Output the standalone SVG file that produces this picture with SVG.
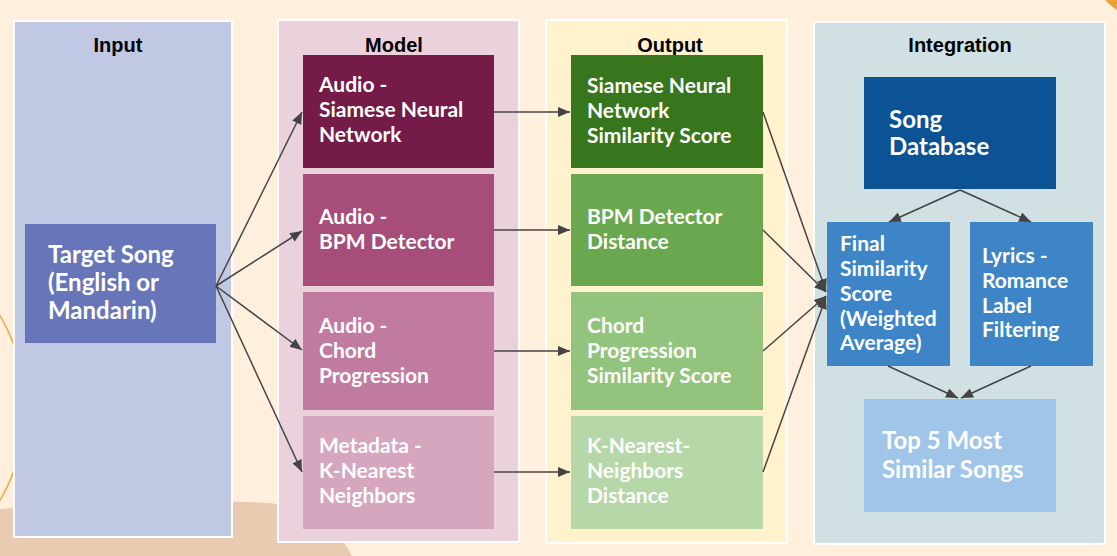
<svg xmlns="http://www.w3.org/2000/svg" width="1117" height="556" viewBox="0 0 1117 556">
<style>
.cl{stroke:#ffffff;stroke-width:2}
.title{font-family:"Liberation Sans",Arial,sans-serif;font-weight:bold;font-size:20px;fill:#000000;text-anchor:middle}
.t{font-family:Lato,"Noto Sans",sans-serif;font-weight:bold;fill:#ffffff}
.s19{font-size:21px}
.s22{font-size:24px}
.s24{font-size:24px}
.c{fill:none;stroke:#444444;stroke-width:1.5}
</style>
<defs>
<marker id="ah" markerUnits="userSpaceOnUse" markerWidth="14" markerHeight="12" refX="12" refY="5" orient="auto">
<path d="M0,0 L12,5 L0,10 Z" fill="#444444"/>
</marker>
</defs>
<rect x="0" y="0" width="1117" height="556" fill="#FFEFDC"/>
<path d="M0,509 Q140,496 270,503 Q330,510 352,556 L0,556 Z" fill="#E9CBB2"/>
<circle cx="-158" cy="408" r="183" fill="none" stroke="#E8A94A" stroke-width="1.5"/>
<circle cx="1150" cy="-40" r="60" fill="#E5A23F"/>

<g id="cluster-input">
<rect class="cl" x="14" y="21" width="218" height="516" fill="#C1C8E3"/>
<text class="title" x="118" y="52">Input</text>
</g>
<g id="cluster-model">
<rect class="cl" x="278" y="20" width="241" height="522" fill="#EAD1DC"/>
<text class="title" x="394" y="52">Model</text>
</g>
<g id="cluster-output">
<rect class="cl" x="546" y="20" width="241" height="523" fill="#FFF2CC"/>
<text class="title" x="670" y="52">Output</text>
</g>
<g id="cluster-integration">
<rect class="cl" x="814" y="22" width="291" height="522" fill="#D0E0E3"/>
<text class="title" x="960" y="52">Integration</text>
</g>

<g id="target-song">
<rect x="25" y="224" width="191" height="119" fill="#6776B9"/>
<text class="t s22" x="48" y="263">Target Song</text>
<text class="t s22" x="48" y="291">(English or</text>
<text class="t s22" x="48" y="319">Mandarin)</text>
</g>

<g id="model-siamese">
<rect x="303" y="55" width="191" height="113" fill="#741B47"/>
<text class="t s19" x="319" y="92">Audio -</text>
<text class="t s19" x="319" y="117">Siamese Neural</text>
<text class="t s19" x="319" y="142">Network</text>
</g>
<g id="model-bpm">
<rect x="303" y="174" width="191" height="112" fill="#A64D79"/>
<text class="t s19" x="319" y="224">Audio -</text>
<text class="t s19" x="319" y="249">BPM Detector</text>
</g>
<g id="model-chord">
<rect x="303" y="292" width="191" height="118" fill="#C27BA0"/>
<text class="t s19" x="319" y="333">Audio -</text>
<text class="t s19" x="319" y="358">Chord</text>
<text class="t s19" x="319" y="383">Progression</text>
</g>
<g id="model-knn">
<rect x="303" y="416" width="191" height="113" fill="#D5A6BD"/>
<text class="t s19" x="319" y="453">Metadata -</text>
<text class="t s19" x="319" y="478">K-Nearest</text>
<text class="t s19" x="319" y="503">Neighbors</text>
</g>

<g id="output-siamese">
<rect x="571" y="55" width="192" height="113" fill="#38761D"/>
<text class="t s19" x="587" y="93">Siamese Neural</text>
<text class="t s19" x="587" y="118">Network</text>
<text class="t s19" x="587" y="143">Similarity Score</text>
</g>
<g id="output-bpm">
<rect x="571" y="174" width="192" height="112" fill="#6AA84F"/>
<text class="t s19" x="587" y="224">BPM Detector</text>
<text class="t s19" x="587" y="249">Distance</text>
</g>
<g id="output-chord">
<rect x="571" y="292" width="192" height="118" fill="#93C47D"/>
<text class="t s19" x="587" y="333">Chord</text>
<text class="t s19" x="587" y="358">Progression</text>
<text class="t s19" x="587" y="383">Similarity Score</text>
</g>
<g id="output-knn">
<rect x="571" y="416" width="192" height="113" fill="#B6D7A8"/>
<text class="t s19" x="587" y="453">K-Nearest-</text>
<text class="t s19" x="587" y="478">Neighbors</text>
<text class="t s19" x="587" y="503">Distance</text>
</g>

<g id="song-database">
<rect x="864" y="77" width="192" height="112" fill="#0B5394"/>
<text class="t s24" x="889" y="128">Song</text>
<text class="t s24" x="889" y="155">Database</text>
</g>
<g id="final-score">
<rect x="827" y="222" width="123" height="144" fill="#3D85C6"/>
<text class="t s19" x="840" y="251">Final</text>
<text class="t s19" x="840" y="276">Similarity</text>
<text class="t s19" x="840" y="301">Score</text>
<text class="t s19" x="840" y="326">(Weighted</text>
<text class="t s19" x="840" y="350">Average)</text>
</g>
<g id="lyrics-filter">
<rect x="970" y="222" width="123" height="144" fill="#3D85C6"/>
<text class="t s19" x="982" y="263">Lyrics -</text>
<text class="t s19" x="982" y="288">Romance</text>
<text class="t s19" x="982" y="313">Label</text>
<text class="t s19" x="982" y="337">Filtering</text>
</g>
<g id="top5">
<rect x="864" y="399" width="192" height="113" fill="#9FC5E8"/>
<text class="t s24" x="882" y="449">Top 5 Most</text>
<text class="t s24" x="882" y="478">Similar Songs</text>
</g>

<g id="connectors">
<line class="c" x1="216" y1="286" x2="302" y2="112" marker-end="url(#ah)"/>
<line class="c" x1="216" y1="286" x2="302" y2="231" marker-end="url(#ah)"/>
<line class="c" x1="216" y1="286" x2="302" y2="350" marker-end="url(#ah)"/>
<line class="c" x1="216" y1="286" x2="302" y2="472" marker-end="url(#ah)"/>
<line class="c" x1="494" y1="112" x2="570" y2="112" marker-end="url(#ah)"/>
<line class="c" x1="494" y1="230" x2="570" y2="230" marker-end="url(#ah)"/>
<line class="c" x1="494" y1="351" x2="570" y2="351" marker-end="url(#ah)"/>
<line class="c" x1="494" y1="472" x2="570" y2="472" marker-end="url(#ah)"/>
<line class="c" x1="763" y1="112" x2="826" y2="291" marker-end="url(#ah)"/>
<line class="c" x1="763" y1="230" x2="826" y2="292" marker-end="url(#ah)"/>
<line class="c" x1="763" y1="351" x2="826" y2="296" marker-end="url(#ah)"/>
<line class="c" x1="763" y1="472" x2="826" y2="297" marker-end="url(#ah)"/>
<line class="c" x1="960" y1="190" x2="889" y2="222" marker-end="url(#ah)"/>
<line class="c" x1="960" y1="190" x2="1031" y2="222" marker-end="url(#ah)"/>
<line class="c" x1="888" y1="366" x2="958" y2="398" marker-end="url(#ah)"/>
<line class="c" x1="1031" y1="366" x2="961" y2="398" marker-end="url(#ah)"/>
</g>
</svg>
